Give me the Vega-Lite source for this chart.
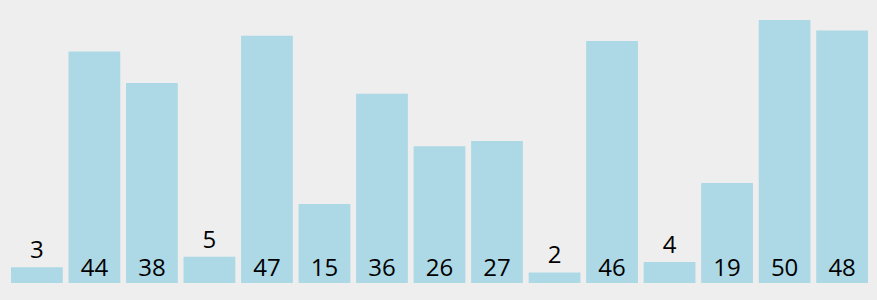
{
  "$schema": "https://vega.github.io/schema/vega-lite/v6.json",
  "width": 857,
  "height": 263,
  "autosize": "none",
  "padding": {"left": 11, "top": 20, "right": 9, "bottom": 17},
  "background": "#eeeeee",
  "config": {"view": {"stroke": null}},
  "data": {
    "values": [
      {"n": 1, "v": 3},
      {"n": 2, "v": 44},
      {"n": 3, "v": 38},
      {"n": 4, "v": 5},
      {"n": 5, "v": 47},
      {"n": 6, "v": 15},
      {"n": 7, "v": 36},
      {"n": 8, "v": 26},
      {"n": 9, "v": 27},
      {"n": 10, "v": 2},
      {"n": 11, "v": 46},
      {"n": 12, "v": 4},
      {"n": 13, "v": 19},
      {"n": 14, "v": 50},
      {"n": 15, "v": 48}
    ]
  },
  "encoding": {
    "x": {
      "field": "n",
      "type": "ordinal",
      "axis": null,
      "scale": {"paddingInner": 0.1, "paddingOuter": 0}
    }
  },
  "layer": [
    {
      "mark": {"type": "bar", "color": "#add8e6"},
      "encoding": {
        "y": {"field": "v", "type": "quantitative", "axis": null, "scale": {"domain": [0, 50], "nice": false}}
      }
    },
    {
      "transform": [{"filter": "datum.v >= 10"}],
      "mark": {"type": "text", "baseline": "alphabetic", "dy": -7, "font": "Open Sans", "fontSize": 24, "color": "#000000"},
      "encoding": {
        "y": {"datum": 0, "type": "quantitative"},
        "text": {"field": "v", "type": "quantitative"}
      }
    },
    {
      "transform": [{"filter": "datum.v < 10"}],
      "mark": {"type": "text", "baseline": "alphabetic", "dy": -9, "font": "Open Sans", "fontSize": 24, "color": "#000000"},
      "encoding": {
        "y": {"field": "v", "type": "quantitative"},
        "text": {"field": "v", "type": "quantitative"}
      }
    }
  ]
}
